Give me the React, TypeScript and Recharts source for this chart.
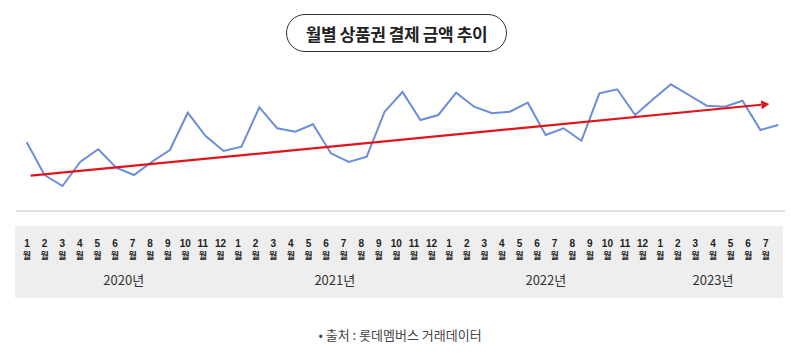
import React from 'react';
import { LineChart, Line, XAxis, YAxis, ReferenceLine } from 'recharts';

// monthly gift-card payment amount (relative units)
const amounts = [
  68.7, 36, 25, 49.3, 61.7, 43.3, 36, 49.3, 61, 98.3, 75, 60,
  64.3, 103.7, 82.7, 79.3, 86.7, 57.7, 49, 54.3, 99.3, 119, 91, 96,
  118.3, 104.3, 97.7, 99.3, 108.3, 76, 82.7, 70.3, 117.7, 121.7, 96, 111.7,
  126.7, 116, 105.3, 104.3, 110.3, 81, 86
];

const monthLabels = [
  1, 2, 3, 4, 5, 6, 7, 8, 9, 10, 11, 12,
  1, 2, 3, 4, 5, 6, 7, 8, 9, 10, 11, 12,
  1, 2, 3, 4, 5, 6, 7, 8, 9, 10, 11, 12,
  1, 2, 3, 4, 5, 6, 7
];

const years = ['2020년', '2021년', '2022년', '2023년'];
const monthsPerYear = [12, 12, 12, 7];

// trend arrow: start / end as [month index, amount]
const trendFrom = [0.22, 35.3];
const trendTo = [41.5, 107];

const data = amounts.map((v, i) => ({ idx: i, amount: v }));
const monthTicks = monthLabels.map((_m, i) => i);

// centre of each year's run of months
const yearTicks: number[] = [];
monthsPerYear.reduce((start, n) => {
  yearTicks.push(start + (n - 1) / 2);
  return start + n;
}, 0);

const FONT = '"Noto Sans CJK KR", "Noto Sans", sans-serif';
const DIGITS = '"Liberation Sans", Arial, sans-serif';

// number on top, 월 underneath
const MonthTick = ({ x, y, payload }: any) => {
  const m = monthLabels[Math.round(payload.value)];
  return (
    <g fill="#222" fontWeight="bold" textAnchor="middle">
      <text x={x} y={y + 25.5} fontSize={10} fontFamily={DIGITS}>{m}</text>
      <text x={x} y={y + 38.3} fontSize={9} fontFamily={FONT}>월</text>
    </g>
  );
};

const YearTick = ({ x, y, payload }: any) => {
  const i = yearTicks.indexOf(payload.value);
  return (
    <text x={x} y={y + 18.6} textAnchor="middle" fontSize={13} fill="#333" fontFamily={FONT}>
      {years[i]}
    </text>
  );
};

const TrendArrow = (p: any) => {
  const { x1, y1, x2, y2 } = p;
  const a = Math.atan2(y2 - y1, x2 - x1);
  const len = 8;
  const half = 4.5;
  const bx = x2 - len * Math.cos(a);
  const by = y2 - len * Math.sin(a);
  const px = -Math.sin(a) * half;
  const py = Math.cos(a) * half;
  return (
    <g>
      <line x1={x1} y1={y1} x2={bx} y2={by} stroke="#e0141c" strokeWidth={2.2} />
      <polygon points={`${x2},${y2} ${bx + px},${by + py} ${bx - px},${by - py}`} fill="#e0141c" />
    </g>
  );
};

export default function App() {
  return (
    <div style={{ position: 'absolute', left: 0, top: 0, width: 800, height: 359, background: '#fff', fontFamily: FONT }}>
      <div
        style={{
          position: 'absolute', left: 286, top: 14, width: 221, height: 38, boxSizing: 'border-box',
          border: '1.5px solid #333', borderRadius: 19, display: 'flex', alignItems: 'center',
          justifyContent: 'center', fontSize: 17, fontWeight: 'bold', color: '#222', letterSpacing: -0.4
        }}
      >
        월별 상품권 결제 금액 추이
      </div>

      {/* grey band behind the month labels */}
      <div style={{ position: 'absolute', left: 15, top: 226, width: 768, height: 72, background: '#eeeeee' }} />

      <div style={{ position: 'absolute', left: 0, top: 0 }}>
        <LineChart width={800} height={300} data={data} margin={{ top: 71, right: 15, bottom: 0, left: 16 }}>
          <XAxis
            dataKey="idx"
            type="number"
            domain={[0, 42]}
            padding={{ left: 10.7, right: 6.7 }}
            height={10}
            tick={false}
            tickLine={false}
            axisLine={{ stroke: '#d9d9d9', strokeWidth: 1.5 }}
          />
          <XAxis
            xAxisId="month"
            type="number"
            domain={[0, 42]}
            allowDataOverflow
            ticks={monthTicks}
            interval={0}
            padding={{ left: 11, right: 19.3 }}
            height={45}
            tickSize={0}
            tickMargin={0}
            axisLine={false}
            tickLine={false}
            tick={<MonthTick />}
          />
          <XAxis
            xAxisId="year"
            type="number"
            domain={[0, 42]}
            allowDataOverflow
            ticks={yearTicks}
            interval={0}
            padding={{ left: 11, right: 19.3 }}
            height={34}
            tickSize={0}
            tickMargin={0}
            axisLine={false}
            tickLine={false}
            tick={<YearTick />}
          />
          <YAxis hide domain={[0, 140]} allowDataOverflow />
          <Line
            type="linear"
            dataKey="amount"
            stroke="#6b8ed6"
            strokeWidth={2}
            dot={false}
            isAnimationActive={false}
          />
          <ReferenceLine
            segment={[{ x: trendFrom[0], y: trendFrom[1] }, { x: trendTo[0], y: trendTo[1] }]}
            ifOverflow="visible"
            shape={<TrendArrow />}
          />
        </LineChart>
      </div>

      <div
        style={{
          position: 'absolute', left: 0, top: 325, width: 800, textAlign: 'center',
          fontSize: 13, color: '#444'
        }}
      >
        • 출처 : 롯데멤버스 거래데이터
      </div>
    </div>
  );
}
